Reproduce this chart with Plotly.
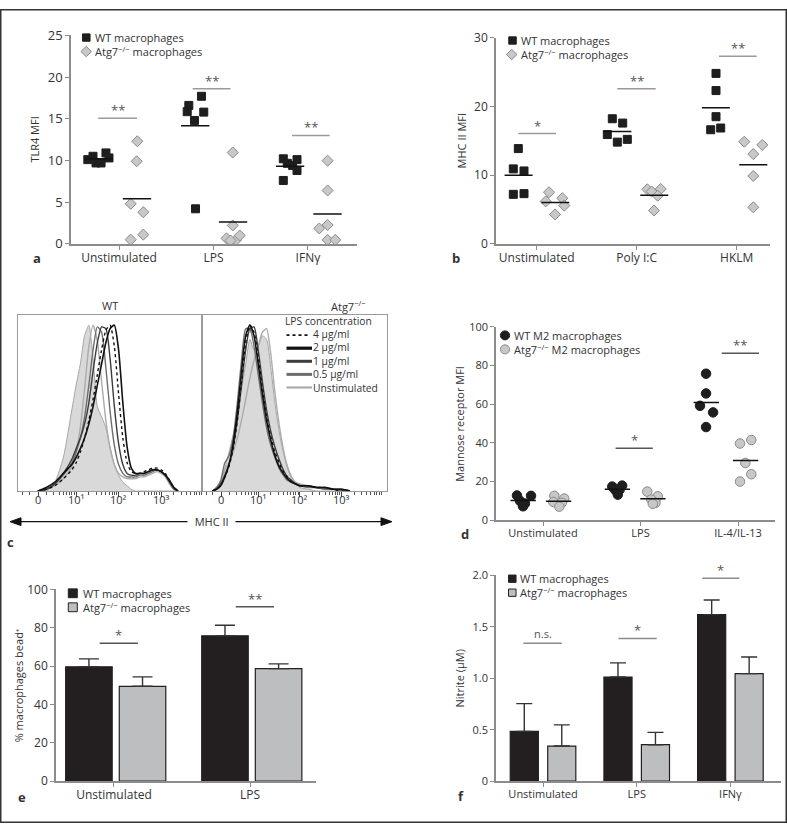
import plotly.graph_objects as go
import numpy as np

W, H = 787, 832
FONT = "Open Sans"
TXT = "#333333"
AXC = "#8c8c8c"

# ---------------- data ----------------
# panel a: TLR4 MFI
a_groups = ["Unstimulated", "LPS", "IFNγ"]
a_wt = [[10.1, 10.5, 9.7, 9.7, 10.9, 10.3],
        [16.6, 15.85, 17.7, 15.8, 14.8, 4.2],
        [10.2, 9.66, 9.4, 10.1, 8.8, 7.6]]
a_ko = [[12.3, 9.9, 4.8, 3.8, 0.5, 1.1],
        [10.95, 2.2, 0.65, 0.45, 1.0, 0.4],
        [9.97, 6.4, 2.26, 1.84, 0.47, 0.47]]
a_yticks = [0, 5, 10, 15, 20, 25]
a_sig_y = [15.06, 18.6, 13.0]
a_sig_lbl = ["**", "**", "**"]
a_legend = ["WT macrophages", "Atg7<sup>−/−</sup> macrophages"]

# panel b: MHC II MFI
b_groups = ["Unstimulated", "Poly I:C", "HKLM"]
b_wt = [[13.86, 10.9, 10.6, 7.2, 7.3],
        [18.2, 17.57, 15.9, 14.8, 15.2],
        [24.8, 22.3, 18.5, 16.6, 16.85]]
b_ko = [[7.5, 6.17, 6.64, 5.56, 4.27],
        [7.93, 7.6, 7.98, 7.0, 4.84],
        [14.86, 14.39, 13.06, 9.87, 5.31]]
b_yticks = [0, 10, 20, 30]
b_sig_y = [16.05, 22.55, 27.3]
b_sig_lbl = ["*", "**", "**"]
b_legend = ["WT macrophages", "Atg7<sup>−/−</sup> macrophages"]

# panel c: MHC II flow histograms (% of box height vs display decade)
c_wt_d = [0.1, 0.3, 0.5, 0.7, 0.9, 1.0, 1.1, 1.2, 1.3, 1.4, 1.5, 1.6, 1.7, 1.8, 1.9,
          2.0, 2.1, 2.2, 2.3, 2.4, 2.5, 2.6, 2.7, 2.8, 2.9, 3.0, 3.1, 3.2, 3.3, 3.4]
c_wt_fill = [0, 0, 5, 19, 46, 60, 72, 88, 94, 75, 48, 42, 36, 25, 15,
             9, 5, 3, 1, 0, 0, 0, 0, 0, 0, 0, 0, 0, 0, 0]
c_wt_unstim = [0, 1, 3, 7, 14, 22, 36, 58, 82, 94, 85, 62, 40, 24, 15,
               10, 8, 7, 7, 7, 8, 8, 9, 10, 11, 10, 8, 4, 1, 0]
c_wt_05 = [0, 1, 4, 9, 16, 22, 30, 42, 60, 80, 93, 90, 70, 45, 26,
           15, 10, 8, 8, 8, 9, 9, 10, 11, 12, 11, 9, 5, 1, 0]
c_wt_1 = [0, 1, 4, 10, 18, 24, 30, 38, 50, 68, 84, 93, 92, 75, 48,
          27, 15, 10, 9, 9, 10, 10, 11, 12, 12, 11, 9, 5, 2, 0]
c_wt_4 = [0, 1, 3, 7, 12, 16, 22, 30, 40, 52, 66, 80, 91, 94, 82,
          55, 30, 16, 11, 10, 10, 11, 12, 13, 13, 12, 10, 6, 2, 0]
c_wt_2 = [0, 2, 5, 10, 15, 19, 24, 30, 38, 48, 60, 72, 84, 92, 94,
          80, 50, 25, 13, 10, 10, 10, 11, 12, 12, 11, 9, 6, 2, 0]

c_ko_d = [-0.1, 0.0, 0.1, 0.2, 0.3, 0.4, 0.5, 0.6, 0.7, 0.8, 0.9, 1.0, 1.1, 1.2,
          1.3, 1.4, 1.5, 1.6, 1.7, 1.8, 1.9, 2.0, 2.2, 2.4, 2.6, 2.8, 3.0, 3.2]
c_ko_fill = [0, 1, 5, 13, 22, 32, 44, 58, 72, 86, 80, 82, 88, 86,
             70, 50, 34, 22, 13, 7, 4, 2, 1, 0, 0, 0, 0, 0]
c_ko_unstim = [0, 1, 4, 12, 16, 22, 30, 40, 52, 64, 74, 82, 90, 92,
               78, 56, 38, 24, 14, 8, 5, 4, 3, 2, 1, 1, 0, 0]
c_ko_05 = [0, 2, 6, 16, 20, 30, 50, 74, 92, 92, 82, 66, 50, 36,
           26, 19, 13, 9, 6, 5, 4, 3, 2, 2, 1, 1, 0, 0]
c_ko_1 = [0, 1, 4, 9, 15, 25, 40, 60, 80, 92, 93, 80, 62, 46,
          34, 25, 18, 12, 8, 6, 4, 3, 3, 2, 2, 1, 1, 0]
c_ko_4 = [0, 1, 3, 8, 14, 24, 40, 62, 84, 94, 90, 76, 58, 42,
          31, 22, 16, 11, 8, 5, 4, 3, 3, 2, 2, 1, 0, 0]
c_ko_2 = [0, 1, 3, 8, 15, 27, 45, 68, 88, 94, 88, 72, 55, 40,
          29, 20, 14, 10, 7, 5, 4, 3, 3, 2, 2, 1, 1, 0]
c_tick_vals = [0.11, 1, 2, 3]
c_tick_labels = ["0", "10¹", "10²", "10³"]
c_legend_title = "LPS concentration"
c_legend = ["4 µg/ml", "2 µg/ml", "1 µg/ml", "0.5 µg/ml", "Unstimulated"]

# panel d: mannose receptor MFI
d_groups = ["Unstimulated", "LPS", "IL-4/IL-13"]
d_wt = [[12.8, 12.6, 10.0, 8.6, 7.2],
        [17.4, 17.9, 15.7, 15.7, 13.2],
        [75.8, 65.6, 59.2, 55.8, 48.2]]
d_ko = [[12.6, 11.2, 9.4, 9.0, 7.0],
        [14.8, 12.4, 10.7, 9.0, 8.5],
        [39.7, 41.5, 29.6, 23.8, 20.0]]
d_yticks = [0, 20, 40, 60, 80, 100]
d_sig_y = [37.2, 86.4]
d_sig_lbl = ["*", "**"]
d_legend = ["WT M2 macrophages", "Atg7<sup>−/−</sup> M2 macrophages"]

# panel e: % macrophages bead+
e_groups = ["Unstimulated", "LPS"]
e_wt = [59.7, 75.8]
e_wt_err = [4.1, 5.5]
e_ko = [49.5, 58.7]
e_ko_err = [4.9, 2.5]
e_yticks = [0, 20, 40, 60, 80, 100]
e_sig_y = [71.9, 91.0]
e_sig_lbl = ["*", "**"]
e_legend = ["WT macrophages", "Atg7<sup>−/−</sup> macrophages"]

# panel f: nitrite
f_groups = ["Unstimulated", "LPS", "IFNγ"]
f_wt = [0.485, 1.013, 1.619]
f_wt_err = [0.269, 0.137, 0.142]
f_ko = [0.342, 0.355, 1.046]
f_ko_err = [0.206, 0.120, 0.161]
f_yticks = [0, 0.5, 1.0, 1.5, 2.0]
f_yticklabels = ["0", "0.5", "1.0", "1.5", "2.0"]
f_sig_y = [1.34, 1.388, 1.973]
f_sig_lbl = ["n.s.", "*", "*"]
f_legend = ["WT macrophages", "Atg7<sup>−/−</sup> macrophages"]

# ---------------- positions / styles (jitter, in category units) ----------------
a_wt_jit = [[-0.33, -0.275, -0.243, -0.19, -0.138, -0.106],
            [-0.261, -0.278, -0.127, -0.103, -0.201, -0.19],
            [-0.261, -0.219, -0.162, -0.116, -0.116, -0.261]]
a_ko_jit = [[0.194, 0.187, 0.124, 0.257, 0.124, 0.257],
            [0.204, 0.204, 0.138, 0.238, 0.278, 0.18],
            [0.208, 0.208, 0.208, 0.12, 0.208, 0.289]]
a_sig_x = [(-0.22, 0.19), (-0.22, 0.18), (-0.17, 0.23)]
b_wt_jit = [[-0.184, -0.234, -0.127, -0.234, -0.127],
            [-0.244, -0.14, -0.294, -0.194, -0.094],
            [-0.207, -0.207, -0.207, -0.26, -0.16]]
b_ko_jit = [[0.123, 0.09, 0.256, 0.276, 0.183],
            [0.106, 0.15, 0.24, 0.21, 0.173],
            [0.076, 0.256, 0.166, 0.166, 0.166]]
b_sig_x = [(-0.184, 0.193), (-0.194, 0.19), (-0.177, 0.2)]
d_wt_jit = [[-0.267, -0.123, -0.236, -0.185, -0.205],
            [-0.29, -0.188, -0.26, -0.215, -0.233],
            [-0.328, -0.328, -0.39, -0.256, -0.328]]
d_ko_jit = [[0.116, 0.218, 0.106, 0.192, 0.167],
            [0.069, 0.177, 0.11, 0.154, 0.126],
            [0.02, 0.136, 0.075, 0.136, 0.02]]
d_sig_grp = [1, 2]
d_sig_x = [(-0.256, 0.126), (-0.167, 0.215)]
e_sig_x = [(-0.105, 0.176), (-0.105, 0.176)]
f_sig_x = [(-0.21, 0.2), (-0.196, 0.213), (-0.3, 0.095)]


def px(x):
    return x / W


def py(y):
    return 1 - y / H


def dom_x(x0, x1):
    return [x0 / W, x1 / W]


def dom_y(ytop, ybot):
    return [1 - ybot / H, 1 - ytop / H]


fig = go.Figure()
shapes = []
annotations = []


def text_px(x, y, s, size=11, xanchor="left", bold=False, angle=0, color=TXT, bg=None):
    d = dict(x=px(x), y=py(y), xref="paper", yref="paper", text=("<b>%s</b>" % s) if bold else s,
             showarrow=False, xanchor=xanchor, yanchor="middle", textangle=angle, align="left",
             font=dict(family=FONT, size=size, color=color), borderpad=0)
    if bg:
        d["bgcolor"] = bg
    annotations.append(d)


def legend_block(x, y_first, lines, size):
    """Multi-line legend text; returns the y (px) centre of each line."""
    step = 1.3 * size
    n = len(lines)
    yc = y_first + step * (n - 1) / 2
    text_px(x, yc, "<br>".join(lines), size)
    return [y_first + i * step for i in range(n)]


def square_px(cx, cy, s, fill, line, lw=1):
    shapes.append(dict(type="rect", xref="paper", yref="paper", x0=px(cx - s / 2), x1=px(cx + s / 2),
                       y0=py(cy + s / 2), y1=py(cy - s / 2), fillcolor=fill, line=dict(color=line, width=lw)))


def diamond_px(cx, cy, r, fill, line):
    p = "M %f,%f L %f,%f L %f,%f L %f,%f Z" % (px(cx), py(cy - r), px(cx + r), py(cy), px(cx), py(cy + r),
                                                px(cx - r), py(cy))
    shapes.append(dict(type="path", xref="paper", yref="paper", path=p, fillcolor=fill,
                       line=dict(color=line, width=1)))


def circle_px(cx, cy, r, fill, line):
    shapes.append(dict(type="circle", xref="paper", yref="paper", x0=px(cx - r), x1=px(cx + r),
                       y0=py(cy + r), y1=py(cy - r), fillcolor=fill, line=dict(color=line, width=1)))


def sig(xa, ya, grp, x0, x1, y, lbl, color, tsize=13, yshift=-3):
    shapes.append(dict(type="line", xref=xa, yref=ya, x0=grp + x0, x1=grp + x1, y0=y, y1=y,
                       line=dict(color=color, width=1.5)))
    annotations.append(dict(x=grp + (x0 + x1) / 2, y=y, xref=xa, yref=ya, text=lbl, showarrow=False,
                            xanchor="center", yanchor="bottom", yshift=yshift,
                            font=dict(family=FONT, size=tsize, color="#555555")))


def axis_style(size):
    return dict(showgrid=False, zeroline=False, showline=True, linecolor=AXC, linewidth=1.5,
                ticks="outside", ticklen=4, tickwidth=1.2, tickcolor=AXC,
                tickfont=dict(family=FONT, size=size, color=TXT))


WT_COL = "#1e1e1e"
KO_COL = "#c8c8c8"
KO_LINE = "#8a8a8a"


def dot_panel(n, wt, wt_jit, ko, ko_jit, wt_sym, ko_sym, wt_size, ko_size, half):
    xa, ya = ("x%d" % n if n > 1 else "x"), ("y%d" % n if n > 1 else "y")
    for vals, jit, sym, size, fill, lc in [(wt, wt_jit, wt_sym, wt_size, WT_COL, WT_COL),
                                           (ko, ko_jit, ko_sym, ko_size, KO_COL, KO_LINE)]:
        xs = [gi + j for gi, js in enumerate(jit) for j in js]
        ys = [v for vs in vals for v in vs]
        fig.add_trace(go.Scatter(x=xs, y=ys, mode="markers", xaxis=xa, yaxis=ya, cliponaxis=False,
                                 marker=dict(symbol=sym, size=size, color=fill, line=dict(color=lc, width=1)),
                                 showlegend=False, hoverinfo="skip"))
    mx, my = [], []
    for vals, jit in [(wt, wt_jit), (ko, ko_jit)]:
        for gi, (vs, js) in enumerate(zip(vals, jit)):
            c = gi + float(np.mean(js))
            m = float(np.mean(vs))
            mx += [c - half, c + half, None]
            my += [m, m, None]
    fig.add_trace(go.Scatter(x=mx, y=my, mode="lines", xaxis=xa, yaxis=ya, cliponaxis=False,
                             line=dict(color="#111111", width=1.5), showlegend=False, hoverinfo="skip"))
    return xa, ya


# ---------------- panel a ----------------
xa, ya = dot_panel(1, a_wt, a_wt_jit, a_ko, a_ko_jit, "square", "diamond", 8, 8.5, 0.15)
for g, (x0, x1), y, l in zip(range(3), a_sig_x, a_sig_y, a_sig_lbl):
    sig(xa, ya, g, x0, x1, y, l, "#9a9a9a")
fig.update_layout(
    xaxis=dict(axis_style(12), domain=dom_x(71, 357), range=[-0.508, 2.519], tickvals=[0, 1, 2],
               ticktext=a_groups, anchor="y", ticklabelstandoff=-2),
    yaxis=dict(axis_style(13), domain=dom_y(27, 240), range=[0, 25], tickvals=a_yticks, anchor="x"))
ly = legend_block(94, 29.2, a_legend, 11)
square_px(86.3, ly[0], 7.5, WT_COL, WT_COL)
diamond_px(86.2, ly[1], 5.3, KO_COL, KO_LINE)
text_px(35, 133.5, "TLR4 MFI", 11, xanchor="center", angle=-90)
text_px(37, 255, "a", 13, xanchor="center", bold=True)

# ---------------- panel b ----------------
xa, ya = dot_panel(2, b_wt, b_wt_jit, b_ko, b_ko_jit, "square", "diamond", 8, 8.5, 0.14)
for g, (x0, x1), y, l in zip(range(3), b_sig_x, b_sig_y, b_sig_lbl):
    sig(xa, ya, g, x0, x1, y, l, "#9a9a9a")
fig.update_layout(
    xaxis2=dict(axis_style(12), domain=dom_x(496, 770), range=[-0.407, 2.333], tickvals=[0, 1, 2],
                ticktext=b_groups, anchor="y2", ticklabelstandoff=-2),
    yaxis2=dict(axis_style(12), domain=dom_y(29.3, 240), range=[0, 30], tickvals=b_yticks, anchor="x2"))
ly = legend_block(519.5, 32.2, b_legend, 11)
square_px(512.5, ly[0], 7.5, WT_COL, WT_COL)
diamond_px(511.7, ly[1], 5.3, KO_COL, KO_LINE)
text_px(461.7, 134.6, "MHC II MFI", 11, xanchor="center", angle=-90)
text_px(456, 255, "b", 13, xanchor="center", bold=True)

# ---------------- panel c ----------------
c_minor = [k for k in [-0.25, -0.1] + [n + float(np.log10(m)) for n in range(0, 4) for m in range(2, 10)]]
flow_styles = {
    "fill": dict(color="#a6a6a6", width=1),
    "unstim": dict(color="#ababab", width=1.4),
    "05": dict(color="#6e6e6e", width=1.4),
    "1": dict(color="#3c3c3c", width=1.4),
    "4": dict(color="#111111", width=1.4, dash="dot"),
    "2": dict(color="#111111", width=1.6),
}
for n, dvals, curves in [
    (3, c_wt_d, [("fill", c_wt_fill), ("unstim", c_wt_unstim), ("05", c_wt_05), ("1", c_wt_1),
                 ("4", c_wt_4), ("2", c_wt_2)]),
    (4, c_ko_d, [("fill", c_ko_fill), ("unstim", c_ko_unstim), ("05", c_ko_05), ("1", c_ko_1),
                 ("4", c_ko_4), ("2", c_ko_2)])]:
    for key, vals in curves:
        kw = dict(fill="tozeroy", fillcolor="#d9d9d9") if key == "fill" else {}
        fig.add_trace(go.Scatter(x=dvals, y=vals, mode="lines", xaxis="x%d" % n, yaxis="y%d" % n,
                                 line=dict(flow_styles[key], shape="spline", smoothing=0.6),
                                 showlegend=False, hoverinfo="skip", **kw))

flow_x = dict(showgrid=False, zeroline=False, showline=True, mirror=True, linecolor="#9a9a9a", linewidth=1,
              ticks="outside", ticklen=5, tickwidth=1, tickcolor="#444444",
              tickvals=c_tick_vals, showticklabels=False,
              minor=dict(tickmode="array", tickvals=c_minor, ticks="outside", ticklen=3, tickcolor="#555555",
                         tickwidth=1))
flow_y = dict(showgrid=False, zeroline=False, showline=True, mirror=True, linecolor="#9a9a9a", linewidth=1,
              showticklabels=False, ticks="", range=[0, 100])
fig.update_layout(
    xaxis3=dict(flow_x, domain=dom_x(18.3, 202.3), range=[-0.36, 3.97], anchor="y3"),
    yaxis3=dict(flow_y, domain=dom_y(312.3, 492.7), anchor="x3"),
    xaxis4=dict(flow_x, domain=dom_x(202.3, 386.7), range=[-0.34, 4.08], anchor="y4"),
    yaxis4=dict(flow_y, domain=dom_y(312.3, 492.7), anchor="x4"),
)
for xr in ["x3", "x4"]:
    for tv, tl in zip(c_tick_vals, c_tick_labels):
        annotations.append(dict(x=tv, y=py(501), xref=xr, yref="paper", text=tl, showarrow=False,
                                xanchor="center", yanchor="middle",
                                font=dict(family=FONT, size=11, color=TXT)))
text_px(110, 303.3, "WT", 11, xanchor="center")
text_px(348, 303.3, "Atg7<sup>−/−</sup>", 11, xanchor="center")
text_px(284.3, 319.0, c_legend_title, 10.3)
leg_y = legend_block(311.5, 333.3, c_legend, 10.3)
leg_keys = ["4", "2", "1", "05", "unstim"]
leg_w = {"4": 1.6, "2": 3.2, "1": 3.0, "05": 3.0, "unstim": 2.2}
for yv, key in zip(leg_y, leg_keys):
    st = flow_styles[key]
    shapes.append(dict(type="line", xref="paper", yref="paper", x0=px(286.5), x1=px(309 if key == "4" else 312),
                       y0=py(yv), y1=py(yv),
                       line=dict(color=st["color"], width=leg_w[key], dash=st.get("dash", "solid"))))
# MHC II double arrow
shapes.append(dict(type="line", xref="paper", yref="paper", x0=px(18), x1=px(384), y0=py(524), y1=py(524),
                   line=dict(color="#111111", width=1.4)))
for tip, base in [(10, 21), (392, 381)]:
    shapes.append(dict(type="path", xref="paper", yref="paper",
                       path="M %f,%f L %f,%f L %f,%f Z" % (px(tip), py(524), px(base), py(520), px(base), py(528)),
                       fillcolor="#111111", line=dict(color="#111111", width=1)))
annotations.append(dict(x=px(211.7), y=py(524), xref="paper", yref="paper", text="  MHC II  ", showarrow=False,
                        xanchor="center", yanchor="middle", bgcolor="white", borderpad=1,
                        font=dict(family=FONT, size=11, color=TXT)))
text_px(10, 545, "c", 13, xanchor="center", bold=True)

# ---------------- panel d ----------------
xa, ya = dot_panel(5, d_wt, d_wt_jit, d_ko, d_ko_jit, "circle", "circle", 9.5, 9.5, 0.13)
for g, (x0, x1), y, l in zip(d_sig_grp, d_sig_x, d_sig_y, d_sig_lbl):
    sig(xa, ya, g, x0, x1, y, l, "#555555")
fig.update_layout(
    xaxis5=dict(axis_style(11), domain=dom_x(496, 775), range=[-0.482, 2.379], tickvals=[0, 1, 2],
                ticktext=d_groups, anchor="y5", ticklabelstandoff=-2),
    yaxis5=dict(axis_style(11), domain=dom_y(325, 522.5), range=[0, 100], tickvals=d_yticks, anchor="x5"))
ly = legend_block(513.3, 333.6, d_legend, 11)
circle_px(505, ly[0], 4.6, WT_COL, WT_COL)
circle_px(505, ly[1], 4.6, KO_COL, KO_LINE)
text_px(460, 424, "Mannose receptor MFI", 11, xanchor="center", angle=-90)
text_px(465, 536.7, "d", 13, xanchor="center", bold=True)

# ---------------- panel e ----------------
BAR_WT = "#231f20"
BAR_KO = "#bcbec0"
for vals, errs, col, off in [(e_wt, e_wt_err, BAR_WT, -0.355), (e_ko, e_ko_err, BAR_KO, 0.039)]:
    fig.add_trace(go.Bar(x=list(range(len(vals))), y=vals, xaxis="x6", yaxis="y6", width=0.342, offset=off,
                         marker=dict(color=col, line=dict(color="#231f20", width=1.2)),
                         error_y=dict(type="data", array=errs, arrayminus=[0] * len(errs), symmetric=False,
                                      color="#333333", thickness=1.4, width=10),
                         showlegend=False, hoverinfo="skip"))
for g, (x0, x1), y, l in zip(range(2), e_sig_x, e_sig_y, e_sig_lbl):
    sig("x6", "y6", g, x0, x1, y, l, "#555555")
fig.update_layout(
    xaxis6=dict(axis_style(12), domain=dom_x(56, 316), range=[-0.426, 1.485], tickvals=[0, 1],
                ticktext=e_groups, anchor="y6", ticklabelstandoff=-2),
    yaxis6=dict(axis_style(12), domain=dom_y(593.3, 789.3), range=[0, 100], tickvals=e_yticks, anchor="x6"))
ly = legend_block(81.7, 597.2, e_legend, 11)
square_px(72.8, ly[0], 9, BAR_WT, "#231f20")
square_px(72.8, ly[1], 9, BAR_KO, "#231f20")
text_px(18.3, 691, "% macrophages bead⁺", 11, xanchor="center", angle=-90)
text_px(21.7, 805, "e", 13, xanchor="center", bold=True)

# ---------------- panel f ----------------
for vals, errs, col, off in [(f_wt, f_wt_err, BAR_WT, -0.35), (f_ko, f_ko_err, BAR_KO, 0.05)]:
    fig.add_trace(go.Bar(x=list(range(len(vals))), y=vals, xaxis="x7", yaxis="y7", width=0.30, offset=off,
                         marker=dict(color=col, line=dict(color="#231f20", width=1.2)),
                         error_y=dict(type="data", array=errs, arrayminus=[0] * len(errs), symmetric=False,
                                      color="#333333", thickness=1.4, width=8),
                         showlegend=False, hoverinfo="skip"))
for g, (x0, x1), y, l in zip(range(3), f_sig_x, f_sig_y, f_sig_lbl):
    sig("x7", "y7", g, x0, x1, y, l, "#8a8a8a", tsize=(11 if l == "n.s." else 13), yshift=(0 if l == "n.s." else -3))
fig.update_layout(
    xaxis7=dict(axis_style(11), domain=dom_x(496, 781), range=[-0.502, 2.54], tickvals=[0, 1, 2],
                ticktext=f_groups, anchor="y7", ticklabelstandoff=-2),
    yaxis7=dict(axis_style(11), domain=dom_y(579, 789.3), range=[0, 2.0], tickvals=f_yticks,
                ticktext=f_yticklabels, anchor="x7"))
ly = legend_block(519.3, 582.3, f_legend, 11)
square_px(512.3, ly[0], 7.5, BAR_WT, "#231f20")
square_px(512.3, ly[1], 7.5, BAR_KO, "#231f20")
text_px(459.3, 684, "Nitrite (µM)", 11, xanchor="center", angle=-90)
text_px(460.7, 804, "f", 13, xanchor="center", bold=True)

# outer frame
shapes.append(dict(type="rect", xref="paper", yref="paper", x0=px(0.75), x1=px(786.25), y0=py(831.25),
                   y1=py(0.75), line=dict(color="#333333", width=1.5), fillcolor="rgba(0,0,0,0)"))

fig.update_layout(width=W, height=H, margin=dict(l=0, r=0, t=0, b=0), paper_bgcolor="white",
                  plot_bgcolor="white", barmode="overlay", shapes=shapes, annotations=annotations,
                  font=dict(family=FONT, color=TXT), showlegend=False)

fig.write_html("out.html", include_plotlyjs=True, full_html=True,
               config={"displayModeBar": False},
               post_script="document.body.style.margin='0px';document.body.style.overflow='hidden';")
